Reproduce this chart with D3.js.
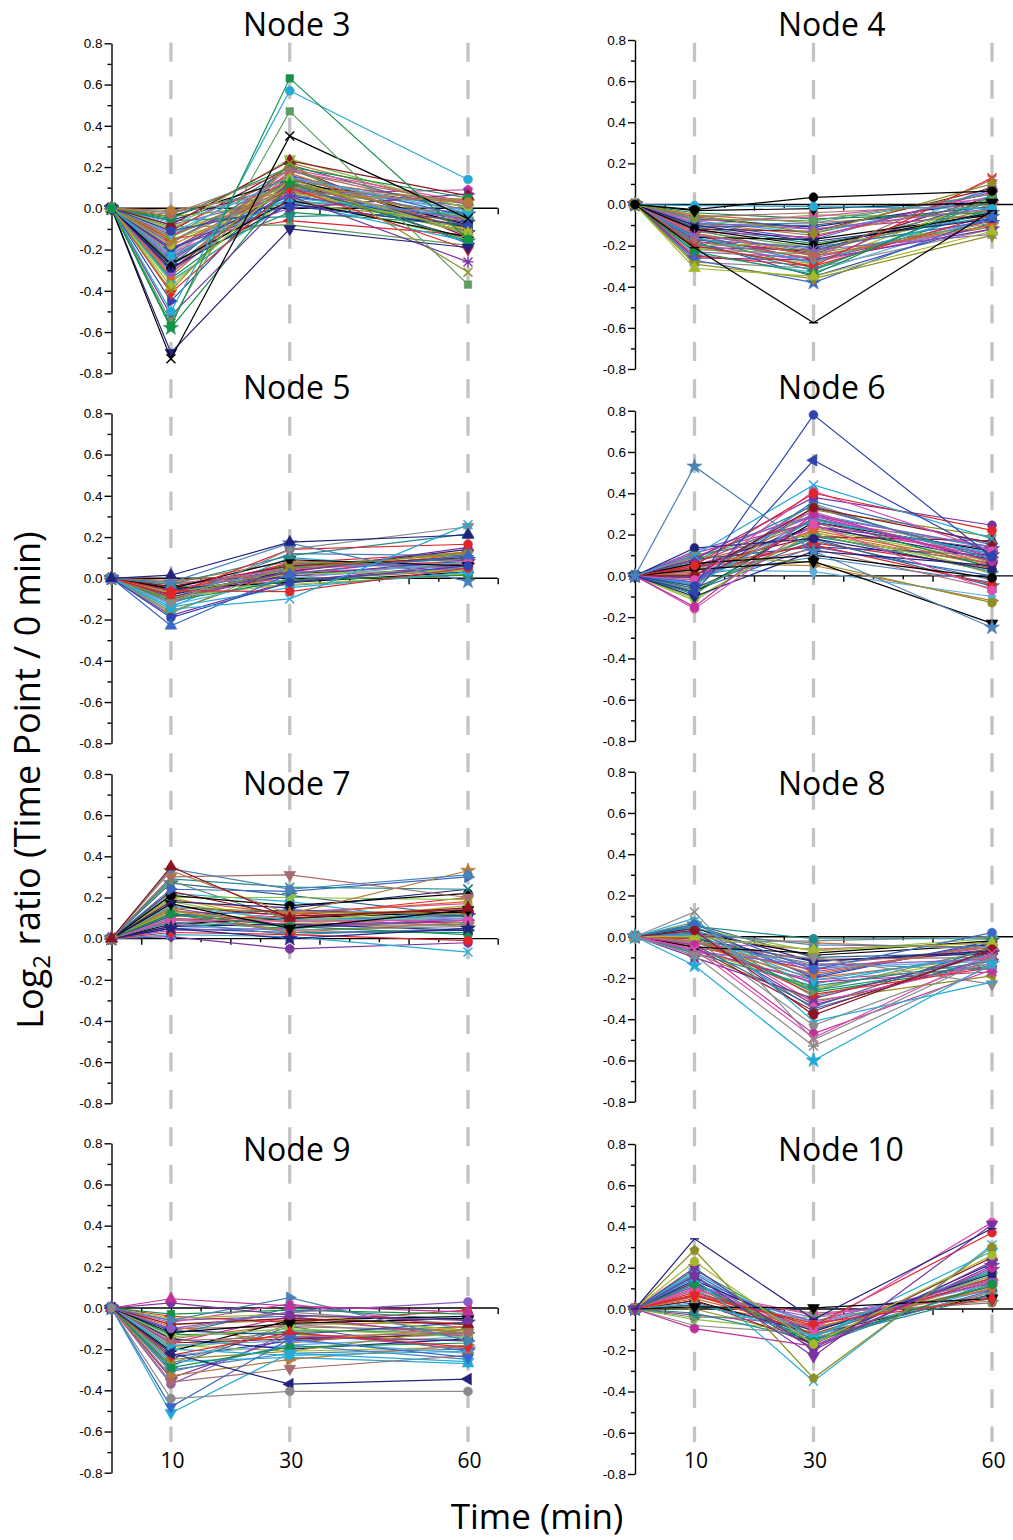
<!DOCTYPE html>
<html lang="en">
<meta charset="utf-8"/>
<head>
<style>
  body { margin: 0; background: #fff; }
</style>
</head>
<body>
<svg id="container" width="1013" height="1540"></svg>

<script src="https://d3js.org/d3.v7.min.js"></script>
<script>
// time points (min), every profile starts at 0 min with ratio 0
let times = [0, 10, 30, 60]
let xLabels = [10, 30, 60]
let yTicks = [-0.8, -0.6, -0.4, -0.2, 0.0, 0.2, 0.4, 0.6, 0.8]
let yMinor = [-0.7, -0.5, -0.3, -0.1, 0.1, 0.3, 0.5, 0.7]
let xMajor = [5, 20, 35, 50, 65]
let xMinor = [10, 15, 25, 30, 40, 45, 55, 60]

// log2 ratios at 10, 30 and 60 min, one row per protein
let node3 = [
  [-0.57, 0.63, -0.15], [-0.50, 0.57, 0.14], [-0.55, 0.47, -0.37], [-0.73, 0.35, -0.05],
  [-0.70, -0.10, -0.19], [-0.52, 0.06, -0.26], [-0.40, 0.22, -0.31], [-0.58, 0.12, -0.16],
  [-0.38, 0.14, -0.12], [-0.41, 0.10, -0.20], [-0.23, 0.05, -0.035], [-0.11, 0.01, -0.08],
  [-0.01, 0.08, 0.03], [-0.03, 0.18, 0.02], [-0.05, 0.20, 0.05], [-0.08, 0.23, 0.06],
  [-0.10, 0.24, 0.00], [-0.12, 0.15, -0.02], [-0.14, 0.12, -0.05], [-0.16, 0.10, 0.04],
  [-0.18, 0.08, -0.10], [-0.20, 0.06, -0.07], [-0.22, 0.13, -0.12], [-0.25, 0.11, 0.01],
  [-0.27, 0.04, -0.14], [-0.29, 0.02, -0.09], [-0.31, 0.09, -0.06], [-0.33, 0.17, -0.11],
  [-0.35, 0.03, -0.16], [-0.06, -0.04, -0.02], [-0.09, -0.08, -0.18], [-0.15, -0.06, -0.13],
  [-0.19, 0.00, 0.07], [-0.24, 0.19, 0.03], [-0.28, 0.21, -0.03], [-0.13, 0.07, 0.09],
  [-0.17, 0.16, -0.04], [-0.21, 0.14, 0.02], [-0.26, -0.02, -0.08], [-0.30, 0.12, -0.10],
  [-0.36, 0.05, -0.15], [-0.07, 0.11, -0.01], [-0.04, 0.02, -0.06], [-0.32, 0.22, 0.00],
  [-0.12, 0.09, -0.12], [-0.45, 0.15, -0.17], [-0.02, 0.06, 0.04],
  [-0.02, 0.10, -0.03], [-0.04, 0.14, -0.08], [-0.06, 0.12, 0.01], [-0.08, 0.06, -0.05],
  [-0.10, 0.16, -0.09], [-0.12, 0.04, -0.04], [-0.14, 0.19, -0.13], [-0.16, 0.13, 0.03],
  [-0.18, 0.09, -0.07], [-0.20, 0.11, -0.15], [-0.22, 0.03, -0.02], [-0.24, 0.07, -0.11],
  [-0.26, 0.15, -0.06], [-0.28, 0.10, -0.12], [-0.30, 0.18, -0.01], [-0.34, 0.08, -0.09],
  [-0.11, 0.20, -0.14], [-0.15, 0.02, 0.05]
]
let node4 = [
  [-0.025, 0.035, 0.065], [-0.21, -0.575, -0.03], [-0.31, -0.35, -0.13], [-0.29, -0.36, -0.15],
  [-0.27, -0.38, -0.06], [-0.005, -0.01, -0.02], [-0.03, -0.02, 0.01], [-0.05, -0.14, 0.10],
  [-0.07, -0.08, 0.05], [-0.23, -0.34, 0.04], [-0.20, -0.30, 0.13], [-0.18, -0.26, 0.12],
  [-0.15, -0.22, -0.145], [-0.12, -0.20, -0.04], [-0.10, -0.18, -0.07], [-0.09, -0.12, -0.02],
  [-0.14, -0.25, -0.10], [-0.16, -0.28, -0.03], [-0.19, -0.32, 0.02], [-0.22, -0.24, -0.09],
  [-0.25, -0.30, -0.05], [-0.26, -0.27, -0.12], [-0.08, -0.06, 0.03], [-0.11, -0.10, -0.01],
  [-0.13, -0.16, 0.06], [-0.17, -0.21, -0.08], [-0.06, -0.04, 0.00], [-0.04, -0.07, -0.04],
  [-0.12, -0.13, 0.08], [-0.20, -0.19, -0.11], [-0.24, -0.33, -0.06], [-0.14, -0.23, -0.02],
  [-0.09, -0.15, 0.01], [-0.21, -0.29, 0.03], [-0.18, -0.35, -0.09], [-0.28, -0.31, -0.12],
  [-0.10, -0.09, 0.05], [-0.16, -0.17, -0.05], [-0.07, -0.11, 0.02], [-0.23, -0.26, -0.07],
  [-0.05, -0.09, -0.03], [-0.08, -0.14, 0.04], [-0.11, -0.19, -0.06], [-0.13, -0.21, 0.00],
  [-0.15, -0.27, -0.08], [-0.17, -0.24, 0.02], [-0.19, -0.28, -0.10], [-0.21, -0.22, -0.04],
  [-0.06, -0.12, -0.05], [-0.09, -0.17, 0.07], [-0.12, -0.25, -0.11], [-0.16, -0.31, -0.02],
  [-0.18, -0.23, 0.04], [-0.10, -0.05, -0.06], [-0.14, -0.29, 0.09]
]
let node5 = [
  [0.015, 0.175, 0.21], [-0.02, 0.17, -0.015], [-0.15, -0.10, 0.26], [-0.12, 0.14, 0.25],
  [-0.23, 0.02, 0.11], [-0.19, -0.02, 0.06], [-0.08, 0.14, 0.165], [-0.06, -0.065, 0.05],
  [-0.14, -0.045, 0.03], [-0.03, 0.11, 0.215], [-0.10, 0.05, 0.12], [-0.05, 0.09, 0.06],
  [-0.09, 0.03, 0.15], [-0.03, 0.045, 0.085], [-0.11, -0.01, 0.015], [-0.04, 0.06, 0.10],
  [-0.07, 0.02, 0.04], [-0.13, 0.00, 0.08], [-0.16, 0.04, 0.13], [-0.02, 0.08, 0.07],
  [-0.09, -0.03, 0.02], [-0.06, 0.01, 0.09], [-0.17, 0.07, 0.05], [-0.10, 0.12, 0.11],
  [-0.05, -0.02, 0.03], [-0.08, 0.035, 0.14], [-0.12, 0.065, 0.06], [-0.01, 0.02, 0.12],
  [-0.14, 0.10, 0.04], [-0.11, 0.055, 0.095], [-0.04, -0.035, 0.02], [-0.07, 0.075, 0.125],
  [-0.18, -0.015, 0.07],
  [-0.05, 0.03, 0.06], [-0.07, 0.05, 0.08], [-0.09, 0.01, 0.05], [-0.04, 0.04, 0.11],
  [-0.06, -0.01, 0.04], [-0.08, 0.07, 0.09], [-0.10, 0.02, 0.07], [-0.03, 0.03, 0.03],
  [-0.12, 0.04, 0.10], [-0.06, 0.06, 0.12], [-0.02, -0.01, 0.05]
]
let node6 = [
  [0.53, 0.12, -0.25], [-0.05, 0.78, 0.09], [-0.08, 0.56, 0.10], [0.10, 0.44, 0.18],
  [0.05, 0.40, 0.22], [-0.02, 0.41, 0.12], [0.00, 0.33, 0.16], [0.08, 0.38, 0.245],
  [0.03, 0.07, -0.23], [0.06, 0.10, -0.01], [0.095, 0.066, -0.13], [-0.15, 0.30, 0.07],
  [-0.16, 0.25, -0.07], [0.135, 0.18, 0.03], [-0.10, 0.12, 0.05], [0.12, 0.29, 0.14],
  [0.02, 0.22, 0.06], [-0.04, 0.27, 0.11], [0.07, 0.34, 0.08], [-0.07, 0.20, 0.02],
  [0.04, 0.15, -0.04], [-0.01, 0.24, 0.13], [0.09, 0.31, 0.05], [-0.06, 0.17, -0.02],
  [0.11, 0.26, 0.09], [-0.03, 0.36, 0.15], [0.01, 0.13, -0.06], [-0.09, 0.28, 0.04],
  [0.05, 0.19, 0.17], [-0.12, 0.23, 0.07], [0.03, 0.02, -0.10], [-0.05, 0.32, 0.19],
  [0.06, 0.05, -0.12], [-0.11, 0.21, 0.03], [0.08, 0.14, 0.10], [-0.02, 0.35, 0.06],
  [0.00, 0.09, -0.03], [-0.08, 0.26, 0.12],
  [0.04, 0.24, 0.08], [-0.03, 0.28, 0.10], [0.07, 0.21, 0.05], [0.02, 0.30, 0.13],
  [-0.06, 0.19, 0.06], [0.09, 0.26, 0.01], [0.01, 0.16, 0.04], [-0.04, 0.33, 0.09],
  [0.05, 0.23, 0.11], [-0.01, 0.18, -0.05], [0.06, 0.29, 0.07], [-0.07, 0.14, 0.00],
  [0.03, 0.27, 0.14], [0.10, 0.20, 0.02]
]
let node7 = [
  [0.35, 0.10, 0.15], [0.34, 0.24, 0.31], [0.33, 0.12, 0.33], [0.30, 0.31, 0.20],
  [0.29, 0.25, 0.24], [0.24, 0.23, 0.30], [0.21, 0.16, 0.22], [0.18, 0.15, 0.24],
  [0.17, 0.05, 0.14], [0.05, 0.00, 0.05], [0.03, 0.02, -0.01], [0.02, 0.01, -0.065],
  [0.01, -0.05, -0.02], [0.12, 0.06, 0.02], [0.09, 0.085, 0.09], [0.23, 0.11, 0.14],
  [0.20, 0.20, 0.19], [0.16, 0.09, 0.10], [0.15, 0.13, 0.12], [0.14, 0.03, 0.08],
  [0.13, 0.08, 0.16], [0.11, 0.14, 0.11], [0.10, 0.04, 0.06], [0.08, 0.02, 0.05],
  [0.07, 0.10, 0.13], [0.06, 0.07, 0.04], [0.04, 0.05, 0.10], [0.19, 0.12, 0.18],
  [0.22, 0.18, 0.07], [0.12, 0.03, 0.03], [0.28, 0.09, 0.12], [0.09, 0.11, 0.20],
  [0.15, 0.06, 0.09], [0.06, 0.13, 0.17], [0.27, 0.21, 0.11],
  [0.10, 0.07, 0.08], [0.12, 0.09, 0.11], [0.14, 0.06, 0.07], [0.08, 0.05, 0.09],
  [0.16, 0.11, 0.13], [0.18, 0.08, 0.10], [0.06, 0.04, 0.07], [0.11, 0.10, 0.06],
  [0.13, 0.12, 0.14], [0.20, 0.07, 0.12], [0.05, 0.03, 0.04], [0.09, 0.06, 0.11]
]
let node8 = [
  [0.12, -0.50, -0.10], [0.09, -0.41, -0.22], [-0.14, -0.60, -0.13], [-0.09, -0.53, -0.14],
  [-0.06, -0.49, -0.08], [-0.04, -0.47, -0.16], [0.03, -0.38, -0.06], [0.00, -0.065, -0.03],
  [-0.09, -0.10, -0.23], [0.06, -0.16, 0.02], [0.05, -0.01, -0.01], [-0.03, -0.02, 0.00],
  [0.02, -0.04, -0.05], [-0.05, -0.08, -0.02], [0.04, -0.12, -0.07], [-0.07, -0.14, -0.11],
  [-0.02, -0.18, -0.04], [0.01, -0.21, -0.09], [-0.08, -0.24, -0.12], [0.07, -0.26, -0.06],
  [-0.01, -0.28, -0.15], [-0.10, -0.30, -0.08], [0.03, -0.32, -0.13], [-0.04, -0.34, -0.05],
  [-0.06, -0.22, -0.17], [0.02, -0.19, -0.03], [-0.03, -0.11, -0.10], [0.00, -0.27, -0.14],
  [-0.05, -0.36, -0.07], [0.04, -0.07, -0.01], [-0.02, -0.15, -0.12], [-0.08, -0.31, -0.19],
  [0.01, -0.03, -0.06], [-0.06, -0.25, -0.09], [0.05, -0.20, -0.02], [-0.01, -0.43, -0.11],
  [-0.03, -0.13, -0.16],
  [0.02, -0.09, -0.04], [-0.01, -0.12, -0.08], [0.03, -0.17, -0.05], [-0.04, -0.20, -0.10],
  [0.00, -0.23, -0.07], [-0.02, -0.26, -0.13], [0.04, -0.29, -0.09], [-0.05, -0.16, -0.06],
  [0.01, -0.33, -0.11], [-0.03, -0.06, -0.03], [0.06, -0.10, -0.08], [-0.07, -0.21, -0.15],
  [0.02, -0.35, -0.10], [-0.01, -0.14, -0.05]
]
let node9 = [
  [-0.44, -0.405, -0.405], [-0.22, -0.37, -0.345], [-0.48, -0.15, -0.24], [-0.51, -0.22, -0.26],
  [0.045, 0.01, -0.02], [0.025, -0.035, -0.06], [-0.06, 0.05, -0.16], [-0.10, -0.02, 0.03],
  [-0.36, -0.295, -0.23], [-0.23, -0.12, -0.19], [-0.12, -0.075, -0.05], [-0.20, -0.23, -0.21],
  [-0.29, -0.19, -0.17], [-0.16, -0.14, -0.12], [-0.03, -0.01, -0.03], [-0.08, -0.05, -0.08],
  [-0.14, -0.10, -0.14], [-0.18, -0.16, -0.22], [-0.25, -0.21, -0.10], [-0.33, -0.25, -0.18],
  [-0.05, -0.03, -0.11], [-0.11, -0.13, -0.07], [-0.27, -0.08, -0.13], [-0.31, -0.18, -0.25],
  [-0.21, -0.06, -0.04], [-0.15, -0.20, -0.15], [-0.37, -0.12, -0.20], [-0.09, -0.17, -0.09],
  [-0.26, -0.24, -0.27], [-0.13, 0.00, -0.06], [-0.19, -0.11, -0.12], [-0.04, -0.07, -0.01],
  [-0.34, -0.14, -0.16], [-0.07, 0.02, -0.10], [-0.28, -0.09, -0.21], [-0.17, -0.04, -0.14],
  [-0.06, -0.04, -0.05], [-0.10, -0.09, -0.11], [-0.13, -0.12, -0.09], [-0.17, -0.15, -0.13],
  [-0.20, -0.13, -0.16], [-0.23, -0.18, -0.14], [-0.08, -0.06, -0.12], [-0.15, -0.08, -0.07],
  [-0.18, -0.21, -0.19], [-0.24, -0.16, -0.12], [-0.11, -0.02, -0.08], [-0.30, -0.22, -0.20]
]
let node10 = [
  [0.34, -0.05, 0.39], [0.16, -0.23, 0.41], [0.285, -0.335, 0.30], [0.23, -0.17, 0.26],
  [0.15, -0.35, 0.31], [0.20, -0.20, 0.23], [0.12, -0.16, 0.12], [0.065, -0.07, 0.05],
  [0.01, 0.005, 0.05], [-0.095, -0.18, 0.20], [-0.08, -0.12, 0.08], [0.10, -0.10, 0.42],
  [0.08, -0.08, 0.37], [0.18, -0.14, 0.28], [0.14, -0.11, 0.17], [0.11, -0.06, 0.14],
  [0.05, -0.09, 0.10], [0.03, -0.13, 0.19], [-0.02, -0.15, 0.07], [-0.04, -0.04, 0.04],
  [0.07, -0.12, 0.15], [0.13, -0.19, 0.21], [0.09, -0.03, 0.06], [0.02, -0.10, 0.11],
  [-0.03, -0.08, 0.13], [0.17, -0.15, 0.09], [0.06, -0.02, 0.03], [0.19, -0.13, 0.18],
  [0.04, -0.17, 0.25], [-0.05, -0.11, 0.16], [0.12, -0.07, 0.12], [0.00, -0.14, 0.08],
  [0.10, -0.12, 0.14], [0.08, -0.09, 0.11], [0.13, -0.15, 0.19], [0.06, -0.06, 0.09],
  [0.15, -0.10, 0.16], [0.04, -0.12, 0.07], [0.11, -0.17, 0.22], [0.07, -0.04, 0.12],
  [0.02, -0.08, 0.15], [0.09, -0.13, 0.10], [0.16, -0.18, 0.13]
]

// colours and symbols
let col = {
  black: "#000000", red: "#e3242b", green: "#12934a", blue: "#2f44b0", cyan: "#24aad6",
  magenta: "#c0309c", olive: "#8e8e24", navy: "#23237e", purple: "#7a32a0", wine: "#8e1424",
  gray: "#8a8a8a", teal: "#1f8c8c", royal: "#3a68c6", brown: "#b87a3c", violet: "#8a5cc8",
  pink: "#de4fae", lime: "#86c440", steel: "#4a82b6", sage: "#5e9c60", rose: "#a86a6a",
  yellowgreen: "#a6b82c", orange: "#d8642a", slate: "#35648e", sky: "#5aaee0"
}
let palette = ["black", "red", "green", "blue", "cyan", "magenta", "olive", "navy", "purple", "wine",
  "gray", "teal", "royal", "brown", "violet", "pink", "lime", "steel", "sage", "rose",
  "yellowgreen", "orange", "slate", "sky"]
let shapes = ["circle", "square", "triUp", "triDown", "diamond", "triLeft", "triRight",
  "hexagon", "star", "pentagon", "x", "asterisk", "circle"]

// styles of the first rows of each node (the eye-catching profiles)
let leads = {
  "Node 3": [["green", "square"], ["cyan", "circle"], ["sage", "square"], ["black", "x"], ["navy", "triDown"],
    ["purple", "asterisk"], ["olive", "x"], ["green", "star"], ["yellowgreen", "triUp"], ["red", "triDown"],
    ["cyan", "square"], ["blue", "circle"], ["brown", "circle"]],
  "Node 4": [["black", "circle"], ["black", "hbar"], ["yellowgreen", "triUp"], ["olive", "triDown"], ["royal", "star"],
    ["cyan", "circle"], ["black", "triDown"], ["olive", "diamond"], ["sage", "circle"], ["green", "circle"],
    ["red", "x"], ["rose", "asterisk"], ["violet", "asterisk"]],
  "Node 5": [["navy", "triUp"], ["steel", "star"], ["cyan", "x"], ["gray", "triDown"], ["royal", "triUp"],
    ["blue", "circle"], ["red", "circle"], ["red", "circle"], ["cyan", "circle"], ["teal", "triUp"],
    ["olive", "square"], ["black", "triDown"], ["purple", "triUp"], ["pink", "circle"], ["green", "circle"]],
  "Node 6": [["steel", "star"], ["blue", "circle"], ["blue", "triLeft"], ["cyan", "x"], ["red", "circle"],
    ["pink", "circle"], ["wine", "circle"], ["purple", "circle"], ["black", "triDown"], ["black", "circle"],
    ["olive", "circle"], ["magenta", "circle"], ["pink", "circle"], ["navy", "circle"], ["navy", "triDown"]],
  "Node 7": [["wine", "triUp"], ["steel", "circle"], ["brown", "star"], ["rose", "triDown"], ["teal", "x"],
    ["royal", "triRight"], ["black", "circle"], ["navy", "x"], ["black", "triDown"], ["navy", "star"],
    ["red", "circle"], ["cyan", "x"], ["purple", "circle"], ["green", "circle"], ["pink", "circle"]],
  "Node 8": [["gray", "x"], ["cyan", "hbar"], ["cyan", "star"], ["gray", "asterisk"], ["pink", "x"],
    ["magenta", "circle"], ["wine", "circle"], ["yellowgreen", "triUp"], ["gray", "triDown"], ["royal", "circle"],
    ["teal", "circle"]],
  "Node 9": [["gray", "circle"], ["navy", "triLeft"], ["royal", "triDown"], ["cyan", "triDown"], ["magenta", "triUp"],
    ["purple", "circle"], ["steel", "triRight"], ["violet", "circle"], ["rose", "triDown"], ["red", "diamond"],
    ["black", "triDown"], ["cyan", "circle"], ["green", "square"]],
  "Node 10": [["navy", "hbar"], ["purple", "triDown"], ["olive", "pentagon"], ["yellowgreen", "circle"], ["cyan", "x"],
    ["purple", "triDown"], ["green", "circle"], ["red", "diamond"], ["black", "triDown"], ["magenta", "circle"],
    ["gray", "hbar"], ["pink", "circle"], ["red", "circle"], ["cyan", "triDown"]]
}

// layout
let columns = [{ range: [111.5, 468], titleX: 243 }, { range: [635, 992], titleX: 778 }]
let panels = [
  { name: "Node 3", data: node3, col: 0, top: 43.3, bottom: 373.3, titleY: 36 },
  { name: "Node 4", data: node4, col: 1, top: 40, bottom: 369, titleY: 36 },
  { name: "Node 5", data: node5, col: 0, top: 413.3, bottom: 743.3, titleY: 399 },
  { name: "Node 6", data: node6, col: 1, top: 410.7, bottom: 741, titleY: 399 },
  { name: "Node 7", data: node7, col: 0, top: 774, bottom: 1103.3, titleY: 795 },
  { name: "Node 8", data: node8, col: 1, top: 771.7, bottom: 1101.7, titleY: 795 },
  { name: "Node 9", data: node9, col: 0, top: 1143.3, bottom: 1472.7, titleY: 1161, bottomRow: true },
  { name: "Node 10", data: node10, col: 1, top: 1144, bottom: 1474, titleY: 1161, bottomRow: true }
]

let svg = d3.select("#container")
svg.append("rect").attr("width", 1013).attr("height", 1540).attr("fill", "#fff")

function polygon(n, r, rot) {
  let pts = d3.range(n).map(k => {
    let a = rot + k * 2 * Math.PI / n
    return [r * Math.sin(a), -r * Math.cos(a)]
  })
  return "M" + pts.map(p => p[0].toFixed(2) + "," + p[1].toFixed(2)).join("L") + "Z"
}

function marker(shape) {
  let r = 4.5
  switch (shape) {
    case "circle": return { d: d3.symbol(d3.symbolCircle, 62)(), rot: 0 }
    case "square": return { d: d3.symbol(d3.symbolSquare, 56)(), rot: 0 }
    case "diamond": return { d: d3.symbol(d3.symbolDiamond, 54)(), rot: 0 }
    case "star": return { d: d3.symbol(d3.symbolStar, 70)(), rot: 0 }
    case "triUp": return { d: d3.symbol(d3.symbolTriangle, 60)(), rot: 0 }
    case "triDown": return { d: d3.symbol(d3.symbolTriangle, 60)(), rot: 180 }
    case "triLeft": return { d: d3.symbol(d3.symbolTriangle, 60)(), rot: -90 }
    case "triRight": return { d: d3.symbol(d3.symbolTriangle, 60)(), rot: 90 }
    case "pentagon": return { d: polygon(5, r + 0.4, 0), rot: 0 }
    case "hexagon": return { d: polygon(6, r, 0), rot: 0 }
    case "x": return { d: `M${-r},${-r}L${r},${r}M${-r},${r}L${r},${-r}`, rot: 0, open: true }
    case "asterisk": return { d: `M${-r},${-r}L${r},${r}M${-r},${r}L${r},${-r}M0,${-r - 1}L0,${r + 1}M${-r - 1},0L${r + 1},0`, rot: 0, open: true }
    case "hbar": return { d: `M${-r},0L${r},0`, rot: 0, open: true }
  }
}

// grey dashed guides at 10, 30, 60 min
columns.forEach(c => {
  let x = d3.scaleLinear().domain([0, 60]).range(c.range)
  svg.append("g").selectAll("line")
    .data(xLabels)
    .enter()
    .append("line")
    .attr("x1", d => x(d)).attr("x2", d => x(d))
    .attr("y1", 42.7).attr("y2", 1442)
    .attr("stroke", "#c4c4c4")
    .attr("stroke-width", 3.3)
    .attr("stroke-dasharray", "19,18.4")
})

panels.forEach(p => {
  let c = columns[p.col]
  let x = d3.scaleLinear().domain([0, 60]).range(c.range)
  let y = d3.scaleLinear().domain([-0.8, 0.8]).range([p.bottom, p.top])
  let g = svg.append("g")

  // y axis
  let ya = g.append("g").attr("transform", `translate(${x(0)},0)`)
    .call(d3.axisLeft(y).tickValues(yTicks).tickSize(7).tickSizeOuter(0).tickPadding(2)
      .tickFormat(d => d.toFixed(1)))
  let ym = g.append("g").attr("transform", `translate(${x(0)},0)`)
    .call(d3.axisLeft(y).tickValues(yMinor).tickSize(4).tickFormat(""))
  ym.select(".domain").remove()
  ;[ya, ym].forEach(a => a.selectAll("path,line").attr("stroke", "#000").attr("stroke-width", 1.4))
  ya.selectAll("text")
    .attr("font-family", "'Liberation Sans', Arial, sans-serif")
    .attr("font-size", 13.5)
    .attr("fill", "#000")

  // zero line with ticks
  g.append("line")
    .attr("x1", x(0)).attr("x2", x(65))
    .attr("y1", y(0)).attr("y2", y(0))
    .attr("stroke", "#000").attr("stroke-width", 1.4)
  let xa = g.append("g").attr("transform", `translate(0,${y(0)})`)
    .call(d3.axisBottom(x).tickValues(xMajor).tickSize(6).tickFormat(""))
  let xm = g.append("g").attr("transform", `translate(0,${y(0)})`)
    .call(d3.axisBottom(x).tickValues(xMinor).tickSize(3.5).tickFormat(""))
  ;[xa, xm].forEach(a => {
    a.select(".domain").remove()
    a.selectAll("line").attr("stroke", "#000").attr("stroke-width", 1.4)
  })

  // profiles
  let line = d3.line().x((d, i) => x(times[i])).y(d => y(d))
  let lead = leads[p.name]
  let series = p.data.map((v, i) => {
    let st = i < lead.length ? lead[i] : [palette[(i * 7 + p.col * 5) % palette.length], shapes[i % shapes.length]]
    return { vals: [0].concat(v), color: col[st[0]], shape: st[1] }
  })
  series.slice().reverse().forEach(s => {
    let sg = g.append("g")
    sg.append("path")
      .attr("d", line(s.vals))
      .attr("fill", "none")
      .attr("stroke", s.color)
      .attr("stroke-width", 1.2)
    let m = marker(s.shape)
    sg.selectAll("path.m")
      .data(s.vals)
      .enter()
      .append("path")
      .attr("class", "m")
      .attr("d", m.d)
      .attr("transform", (d, i) => `translate(${x(times[i])},${y(d)}) rotate(${m.rot})`)
      .attr("fill", m.open ? "none" : s.color)
      .attr("stroke", s.color)
      .attr("stroke-width", m.open ? 1.4 : 0.6)
  })

  // title
  g.append("text")
    .attr("x", c.titleX).attr("y", p.titleY)
    .attr("font-family", "'Open Sans', sans-serif")
    .attr("font-size", 32)
    .attr("fill", "#000")
    .text(p.name)

  if (p.bottomRow) {
    g.append("g").selectAll("text")
      .data(xLabels)
      .enter()
      .append("text")
      .attr("x", d => x(d) + 1.5)
      .attr("y", 1468)
      .attr("text-anchor", "middle")
      .attr("font-family", "'Open Sans', sans-serif")
      .attr("font-size", 21)
      .text(d => d)
  }
})

// axis titles
svg.append("text")
  .attr("x", 537).attr("y", 1529)
  .attr("text-anchor", "middle")
  .attr("font-family", "'Open Sans', sans-serif")
  .attr("font-size", 35)
  .text("Time (min)")

let yl = svg.append("text")
  .attr("transform", "translate(43,780) rotate(-90)")
  .attr("text-anchor", "middle")
  .attr("font-family", "'Open Sans', sans-serif")
  .attr("font-size", 36)
yl.append("tspan").text("Log")
yl.append("tspan").attr("dy", "0.28em").attr("font-size", 24).text("2")
yl.append("tspan").attr("dy", "-0.28em").text(" ratio (Time Point / 0 min)")
</script>
</body>
</html>
